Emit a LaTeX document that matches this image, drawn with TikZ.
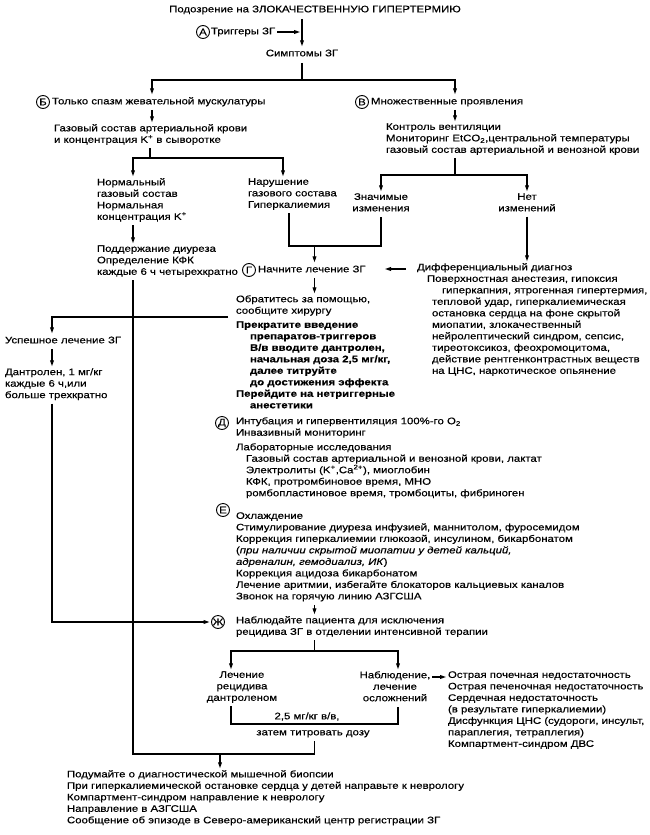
\documentclass[tikz,border=0pt]{standalone}
\usepackage{fontspec}
\setmainfont[FakeStretch=1.2,FakeBold=0.4]{Liberation Sans}
\usetikzlibrary{arrows.meta}
\begin{document}
\begin{tikzpicture}[x=1pt,y=-1pt,
  every node/.style={font=\fontsize{9.5}{11.5}\selectfont, inner sep=0pt, outer sep=0pt},
  txt/.style={align=left, execute at begin node=\strut},
  ctr/.style={align=center, execute at begin node=\strut},
  lab/.style={circle, draw, line width=0.9pt, minimum size=13pt, inner sep=0pt, font=\fontsize{9.5}{10}\selectfont},
  ln/.style={line width=1.1pt},
  arr/.style={ln, -{Triangle[length=6pt,width=3.8pt]}, shorten >=2pt},
  boldtxt/.style={txt, font=\fontsize{9.5}{11.5}\selectfont\bfseries}
]
\fill[white] (0,0) rectangle (650,835);
\useasboundingbox (0,0) rectangle (650,835);

% top
\node[txt] (title) at (315,10) {Подозрение на ЗЛОКАЧЕСТВЕННУЮ ГИПЕРТЕРМИЮ};
\node[lab] (labA) at (203,32) {А};
\node[txt, anchor=west] (trig) at (211,32) {Триггеры ЗГ};
\node[txt] (symp) at (302,54) {Симптомы ЗГ};
\draw[arr, shorten <=3pt] (title.south -| symp) -- (symp.north);
\draw[arr, shorten <=2pt] (trig.east) -- (trig.east -| symp);

% branch B / V
\coordinate (jTop) at (302,80);
\coordinate (xB) at (152,0);
\coordinate (xV) at (455,0);
\node[lab] (labB) at (43,102) {Б};
\node[txt, anchor=west] (spasm) at (52,102) {Только спазм жевательной мускулатуры};
\node[lab] (labV) at (362,102) {В};
\node[txt, anchor=west] (multi) at (371,102) {Множественные проявления};
\draw[ln, shorten <=3pt] (symp.south) -- (jTop);
\draw[arr] (jTop) -| (spasm.north -| xB);
\draw[arr] (jTop) -| (multi.north -| xV);

\node[txt, anchor=north west] (gas) at (54,124.25) {Газовый состав артериальной крови\\и концентрация K\textsuperscript{+} в сыворотке};
\node[txt, anchor=north west] (mon) at (386,123.25) {Контроль вентиляции\\Мониторинг EtCO\textsubscript{2},центральной температуры\\газовый состав артериальной и венозной крови};
\draw[arr, shorten <=2pt] (spasm.south -| xB) -- (gas.north -| xB);
\draw[arr, shorten <=2pt] (multi.south -| xV) -- (mon.north -| xV);

% gas split
\coordinate (jGas) at (150,158);
\coordinate (xN1) at (133,0);
\coordinate (xN2) at (283,0);
\node[txt, anchor=north west] (normal) at (97,178.25) {Нормальный\\газовый состав\\Нормальная\\концентрация K\textsuperscript{+}};
\node[txt, anchor=north west] (narush) at (248,178.25) {Нарушение\\газового состава\\Гиперкалиемия};
\draw[ln, shorten <=2pt] (gas.south -| jGas) -- (jGas);
\draw[arr] (jGas) -| (normal.north -| xN1);
\draw[arr] (jGas) -| (narush.north -| xN2);

% monitoring split
\coordinate (jMon) at (455,175);
\node[ctr, anchor=north] (signif) at (381,193.25) {Значимые\\изменения};
\node[ctr, anchor=north] (none) at (527,193.25) {Нет\\изменений};
\draw[ln, shorten <=2pt] (mon.south -| jMon) -- (jMon);
\draw[arr] (jMon) -| (signif.north);
\draw[arr] (jMon) -| (none.north);

% join to treatment
\coordinate (xJ) at (289,0);
\coordinate (jJoin) at (381,246);
\coordinate (xC) at (314.5,0);
\coordinate (jC) at (314.5,246);
\draw[ln, shorten <=2pt, shorten >=2pt] (narush.south -| xJ) |- (jJoin) -- (signif.south);
\node[lab] (labG) at (249,270) {Г};
\node[txt, anchor=west] (treat) at (258,270) {Начните лечение ЗГ};
\draw[arr] (jC) -- (treat.north -| xC);

\node[txt, anchor=north west] (podd) at (97,245.25) {Поддержание диуреза\\Определение КФК\\каждые 6 ч четырехкратно};
\draw[arr, shorten <=2pt] (normal.south -| xN1) -- (podd.north -| xN1);

% differential diagnosis
\node[txt, anchor=north west] (diff) at (417,263.25) {Дифференциальный диагноз\\
\hspace*{10pt}Поверхностная анестезия, гипоксия\\
\hspace*{25pt}гиперкапния, ятрогенная гипертермия,\\
\hspace*{15pt}тепловой удар, гиперкалиемическая\\
\hspace*{15pt}остановка сердца на фоне скрытой\\
\hspace*{15pt}миопатии, злокачественный\\
\hspace*{15pt}нейролептический синдром, сепсис,\\
\hspace*{15pt}тиреотоксикоз, феохромоцитома,\\
\hspace*{15pt}действие рентгенконтрастных веществ\\
\hspace*{15pt}на ЦНС, наркотическое опьянение};
\draw[arr, shorten <=2pt] (none.south) -- (diff.north -| none);
\coordinate (diffL) at (406,269);
\coordinate (treatR) at (385,269);
\draw[ln, -{Triangle[length=6pt,width=3.8pt]}] (diffL) -- (treatR);

% treatment column
\node[txt, anchor=north west] (help) at (236,295.25) {Обратитесь за помощью,\\сообщите хирургу};
\draw[arr, shorten <=2pt] (treat.south -| xC) -- (help.north -| xC);

\node[boldtxt, anchor=north west] (stop) at (236,321.25) {Прекратите введение\\
\hspace*{14pt}препаратов-триггеров\\
\hspace*{14pt}В/в вводите дантролен,\\
\hspace*{14pt}начальная доза 2,5 мг/кг,\\
\hspace*{14pt}далее титруйте\\
\hspace*{14pt}до достижения эффекта\\
Перейдите на нетриггерные\\
\hspace*{14pt}анестетики};

\node[lab] (labD) at (222,423) {Д};
\node[txt, anchor=north west] (intub) at (236,417.25) {Интубация и гипервентиляция 100\%-го O\textsubscript{2}\\Инвазивный мониторинг};

\node[txt, anchor=north west] (labs) at (236,443.25) {Лабораторные исследования\\
\hspace*{10pt}Газовый состав артериальной и венозной крови, лактат\\
\hspace*{10pt}Электролиты (K\textsuperscript{+},Ca\textsuperscript{2+}), миоглобин\\
\hspace*{10pt}КФК, протромбиновое время, МНО\\
\hspace*{10pt}ромбопластиновое время, тромбоциты, фибриноген};

\node[lab] (labE) at (223,510) {Е};
\node[txt, anchor=north west] (cool) at (236,512.25) {Охлаждение\\
Стимулирование диуреза инфузией, маннитолом, фуросемидом\\
Коррекция гиперкалиемии глюкозой, инсулином, бикарбонатом\\
(\textit{при наличии скрытой миопатии у детей кальций,}\\
\textit{адреналин, гемодиализ, ИК})\\
Коррекция ацидоза бикарбонатом\\
Лечение аритмии, избегайте блокаторов кальциевых каналов\\
Звонок на горячую линию АЗГСША};

% success branch
\coordinate (exitR) at (228,317);
\coordinate (xL) at (52,0);
\node[txt, anchor=west] (succ) at (5,341) {Успешное лечение ЗГ};
\draw[arr] (exitR) -| (succ.north -| xL);
\node[txt, anchor=north west] (dant) at (5,368.25) {Дантролен, 1 мг/кг\\каждые 6 ч,или\\больше трехкратно};
\draw[arr, shorten <=2pt] (succ.south -| xL) -- (dant.north -| xL);

% observation
\node[lab] (labZh) at (218,622) {Ж};
\node[txt, anchor=north west] (obs) at (236,616.25) {Наблюдайте пациента для исключения\\рецидива ЗГ в отделении интенсивной терапии};
\draw[arr, shorten <=2pt] (cool.south -| xC) -- (obs.north -| xC);
\draw[arr, shorten <=2pt] (dant.south -| xL) |- (labZh.west);

\coordinate (jObs) at (314.5,651);
\coordinate (xR1) at (231,0);
\coordinate (xR2) at (398,0);
\node[ctr, anchor=north] (relapse) at (242,671.25) {Лечение\\рецидива\\дантроленом};
\node[ctr, anchor=north] (watch) at (395,671.25) {Наблюдение,\\лечение\\осложнений};
\draw[ln, shorten <=2pt] (obs.south -| xC) -- (jObs);
\draw[arr] (jObs) -| (relapse.north -| xR1);
\draw[arr] (jObs) -| (watch.north -| xR2);

\node[txt, anchor=north west] (compl) at (448,671.25) {Острая почечная недостаточность\\
Острая печеночная недостаточность\\
Сердечная недостаточность\\
(в результате гиперкалиемии)\\
Дисфункция ЦНС (судороги, инсульт,\\
параплегия, тетраплегия)\\
Компартмент-синдром ДВС};
\coordinate (wR) at (432,677);
\draw[arr] (wR) -- (compl.north west |- wR);

\coordinate (boxR) at (398,724);
\draw[ln, shorten <=2pt, shorten >=2pt] (relapse.south -| xR1) |- (boxR) -- (watch.south -| xR2);
\node[txt] (dose) at (307,717) {2,5 мг/кг в/в,};
\node[txt] (titr) at (313,733) {затем титровать дозу};

% bottom
\coordinate (jBot) at (314.5,754);
\coordinate (xF) at (220,0);
\draw[ln, shorten <=2pt, shorten >=2pt] (podd.south -| xN1) |- (jBot) -- (titr.south -| xC);
\node[txt, anchor=north west] (final) at (67,770.25) {Подумайте о диагностической мышечной биопсии\\
При гиперкалиемической остановке сердца у детей направьте к неврологу\\
Компартмент-синдром направление к неврологу\\
Направление в АЗГСША\\
Сообщение об эпизоде в Северо-американский центр регистрации ЗГ};
\draw[arr] (jBot -| xF) -- (final.north -| xF);
\end{tikzpicture}
\end{document}
